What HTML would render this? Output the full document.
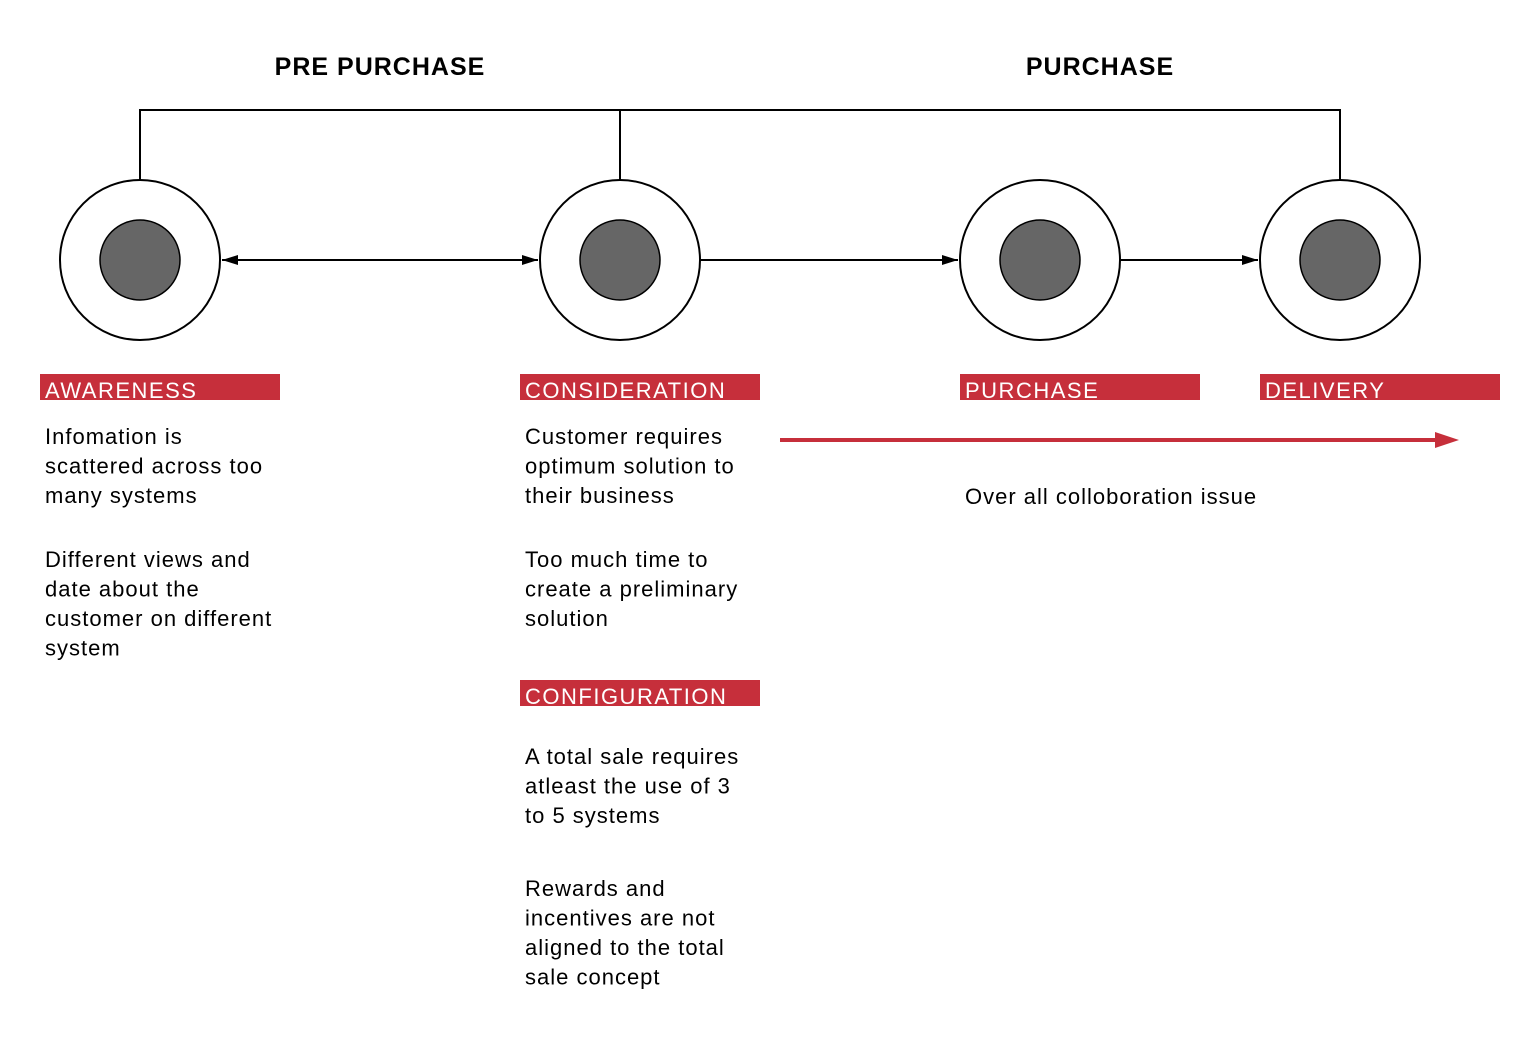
<!DOCTYPE html>
<html><head><meta charset="utf-8"><style>
html,body{margin:0;padding:0;background:#fff;}
svg{display:block;font-family:"Liberation Sans",Arial,sans-serif;}
.t{font-size:22px;fill:#000;letter-spacing:1px;}
.lbl{font-size:22px;fill:#fff;letter-spacing:1.5px;}
.h{font-size:25px;font-weight:bold;fill:#000;letter-spacing:1px;}
</style></head><body>
<svg width="1540" height="1039" viewBox="0 0 1540 1039">
<defs>
<marker id="ah" markerWidth="16" markerHeight="10" refX="16" refY="5" orient="auto" markerUnits="userSpaceOnUse"><path d="M0,0 L16,5 L0,10 Z" fill="#000"/></marker>
<marker id="ahs" markerWidth="16" markerHeight="10" refX="0" refY="5" orient="auto" markerUnits="userSpaceOnUse"><path d="M16,0 L0,5 L16,10 Z" fill="#000"/></marker>
</defs>
<text class="h" x="380" y="75" text-anchor="middle">PRE PURCHASE</text>
<text class="h" x="1100" y="75" text-anchor="middle">PURCHASE</text>
<g fill="none" stroke="#000" stroke-width="2">
<path d="M140,180 V110 H1340 V180"/><path d="M620,110 V180"/>
</g>
<g><circle cx="140" cy="260" r="80" fill="#fff" stroke="#000" stroke-width="2"/><circle cx="140" cy="260" r="40" fill="#666" stroke="#000" stroke-width="1.5"/></g>
<g><circle cx="620" cy="260" r="80" fill="#fff" stroke="#000" stroke-width="2"/><circle cx="620" cy="260" r="40" fill="#666" stroke="#000" stroke-width="1.5"/></g>
<g><circle cx="1040" cy="260" r="80" fill="#fff" stroke="#000" stroke-width="2"/><circle cx="1040" cy="260" r="40" fill="#666" stroke="#000" stroke-width="1.5"/></g>
<g><circle cx="1340" cy="260" r="80" fill="#fff" stroke="#000" stroke-width="2"/><circle cx="1340" cy="260" r="40" fill="#666" stroke="#000" stroke-width="1.5"/></g>
<line x1="222" y1="260" x2="538" y2="260" stroke="#000" stroke-width="2" marker-start="url(#ahs)" marker-end="url(#ah)"/>
<line x1="700" y1="260" x2="958" y2="260" stroke="#000" stroke-width="2" marker-end="url(#ah)"/>
<line x1="1120" y1="260" x2="1258" y2="260" stroke="#000" stroke-width="2" marker-end="url(#ah)"/>

<g><rect x="40" y="374" width="240" height="26" fill="#c62f3b"/><text class="lbl" x="45" y="398">AWARENESS</text></g>
<g><rect x="520" y="374" width="240" height="26" fill="#c62f3b"/><text class="lbl" x="525" y="398">CONSIDERATION</text></g>
<g><rect x="960" y="374" width="240" height="26" fill="#c62f3b"/><text class="lbl" x="965" y="398">PURCHASE</text></g>
<g><rect x="1260" y="374" width="240" height="26" fill="#c62f3b"/><text class="lbl" x="1265" y="398">DELIVERY</text></g>
<g><rect x="520" y="680" width="240" height="26" fill="#c62f3b"/><text class="lbl" x="525" y="704">CONFIGURATION</text></g>

<g>
<text class="t" x="45" y="444">Infomation is</text>
<text class="t" x="45" y="473.5">scattered across too</text>
<text class="t" x="45" y="503">many systems</text>
<text class="t" x="45" y="567">Different views and</text>
<text class="t" x="45" y="596.5">date about the</text>
<text class="t" x="45" y="626">customer on different</text>
<text class="t" x="45" y="655.5">system</text>
</g>
<g>
<text class="t" x="525" y="444">Customer requires</text>
<text class="t" x="525" y="473.5">optimum solution to</text>
<text class="t" x="525" y="503">their business</text>
<text class="t" x="525" y="567">Too much time to</text>
<text class="t" x="525" y="596.5">create a preliminary</text>
<text class="t" x="525" y="626">solution</text>
</g>
<g>
<text class="t" x="525" y="764">A total sale requires</text>
<text class="t" x="525" y="793.5">atleast the use of 3</text>
<text class="t" x="525" y="823">to 5 systems</text>
<text class="t" x="525" y="896">Rewards and</text>
<text class="t" x="525" y="925.5">incentives are not</text>
<text class="t" x="525" y="955">aligned to the total</text>
<text class="t" x="525" y="984.5">sale concept</text>
</g>
<g>
<line x1="780" y1="440" x2="1437" y2="440" stroke="#c62f3b" stroke-width="4"/>
<path d="M1435,432 L1459,440 L1435,448 Z" fill="#c62f3b"/>
</g>
<text class="t" x="965" y="504">Over all colloboration issue</text>
</svg>
</body></html>
